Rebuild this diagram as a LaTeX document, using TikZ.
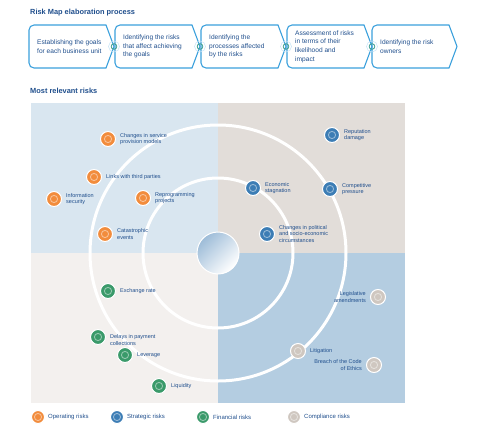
\documentclass[tikz,border=0pt]{standalone}
\usepackage{fontspec}
\setmainfont{Liberation Sans}
\usetikzlibrary{positioning,calc}

\definecolor{navy}{HTML}{1F4E8C}
\definecolor{chevblue}{HTML}{3BA0DC}
\definecolor{qtl}{HTML}{D9E6F0}
\definecolor{qtr}{HTML}{E2DDD9}
\definecolor{qbl}{HTML}{F3F0EE}
\definecolor{qbr}{HTML}{B4CDE1}
\definecolor{oprisk}{HTML}{F28C3C}
\definecolor{strisk}{HTML}{3C7DB5}
\definecolor{finrisk}{HTML}{3A9A6A}
\definecolor{comrisk}{HTML}{CFC7C0}
\definecolor{hubblue}{HTML}{9DBCD8}

\begin{document}
\begin{tikzpicture}[x=1pt,y=-1pt,
  heading/.style={anchor=west,inner sep=0pt,text=navy,font=\fontsize{7.4}{8}\selectfont\bfseries},
  steptext/.style={anchor=west,inner sep=0pt,align=left,text=navy,font=\fontsize{6.6}{8.6}\selectfont},
  riskdot/.style={circle,fill=#1,draw=white,line width=1pt,minimum size=15pt,inner sep=0pt,
    path picture={\draw[#1!55!white,line width=0.9pt] (path picture bounding box.center) circle (3.6pt);}},
  keydot/.style={riskdot=#1,minimum size=13pt},
  risklabel/.style={inner sep=0pt,align=left,text=navy,font=\fontsize{5.5}{6.3}\selectfont},
  keylabel/.style={risklabel,font=\fontsize{6}{6.8}\selectfont}]
  \useasboundingbox (0,0) rectangle (480,445);

  % elaboration process
  \node[heading] (proctitle) at (30,13) {Risk Map elaboration process};
  \foreach \x/\txt [count=\i] in {29/{Establishing the goals\\for each business unit},
      115/{Identifying the risks\\that affect achieving\\the goals},
      201/{Identifying the\\processes affected\\by the risks},
      287/{Assessment of risks\\in terms of their\\likelihood and\\impact},
      372/{Identifying the risk\\owners}}
  {
    \draw[chevblue,line width=1.1pt,rounded corners=5pt] (\x+40,25) -- (\x,25) -- (\x,68) -- (\x+40,68)
      [sharp corners] -- (\x+77,68) -- (\x+85,46.5) -- (\x+77,25) -- cycle;
    \node[steptext] (step\i) at (\x+8,46.5) {\txt};
  }
  \foreach \x in {114,200,286,372}{
    \draw[chevblue!30,line width=0.5pt] (\x,46.5) circle (5.5pt);
    \draw[finrisk!70!chevblue,line width=0.8pt] (\x,46.5) circle (2.8pt);
  }

  % risk map
  \node[heading] (maptitle) at (30,91) {Most relevant risks};
  \coordinate (hub) at (218,253);
  \fill[qtl] (31,103) rectangle (hub);
  \fill[qtr] (405,103) rectangle (hub);
  \fill[qbl] (31,403) rectangle (hub);
  \fill[qbr] (405,403) rectangle (hub);
  \draw[white,line width=3pt] (hub) circle (75pt) (hub) circle (128pt);
  \shade[top color=hubblue,bottom color=white,shading angle=45,draw=white,line width=1pt] (hub) circle (21pt);

  % operating
  \node[riskdot=oprisk] (service) at (108,139) {};
  \node[risklabel,right=4pt of service] (servicetxt) {Changes in service\\provision models};
  \node[riskdot=oprisk] (third) at (94,177) {};
  \node[risklabel,right=4pt of third] (thirdtxt) {Links with third parties};
  \node[riskdot=oprisk] (infosec) at (54,199) {};
  \node[risklabel,right=4pt of infosec] (infosectxt) {Information\\security};
  \node[riskdot=oprisk] (reprog) at (143,198) {};
  \node[risklabel,right=4pt of reprog] (reprogtxt) {Reprogramming\\projects};
  \node[riskdot=oprisk] (catas) at (105,234) {};
  \node[risklabel,right=4pt of catas] (catastxt) {Catastrophic\\events};

  % strategic
  \node[riskdot=strisk] (reput) at (332,135) {};
  \node[risklabel,right=4pt of reput] (reputtxt) {Reputation\\damage};
  \node[riskdot=strisk] (econ) at (253,188) {};
  \node[risklabel,right=4pt of econ] (econtxt) {Economic\\stagnation};
  \node[riskdot=strisk] (compet) at (330,189) {};
  \node[risklabel,right=4pt of compet] (compettxt) {Competitive\\pressure};
  \node[riskdot=strisk] (polit) at (267,234) {};
  \node[risklabel,right=4pt of polit] (polittxt) {Changes in political\\and socio-economic\\circumstances};

  % financial
  \node[riskdot=finrisk] (exch) at (108,291) {};
  \node[risklabel,right=4pt of exch] (exchtxt) {Exchange rate};
  \node[riskdot=finrisk] (delays) at (98,337) {};
  \node[risklabel,right=4pt of delays,yshift=-3pt] (delaystxt) {Delays in payment\\collections};
  \node[riskdot=finrisk] (lever) at (125,355) {};
  \node[risklabel,right=4pt of lever] (levertxt) {Leverage};
  \node[riskdot=finrisk] (liquid) at (159,386) {};
  \node[risklabel,right=4pt of liquid] (liquidtxt) {Liquidity};

  % compliance
  \node[riskdot=comrisk] (legis) at (378,297) {};
  \node[risklabel,align=right,left=4pt of legis] (legistxt) {Legislative\\amendments};
  \node[riskdot=comrisk] (litig) at (298,351) {};
  \node[risklabel,right=4pt of litig] (litigtxt) {Litigation};
  \node[riskdot=comrisk] (ethics) at (374,365) {};
  \node[risklabel,align=right,left=4pt of ethics] (ethicstxt) {Breach of the Code\\of Ethics};

  % key
  \node[keydot=oprisk] (keyop) at (38,417) {};
  \node[keylabel,right=3pt of keyop] (keyoptxt) {Operating risks};
  \node[keydot=strisk] (keyst) at (117,417) {};
  \node[keylabel,right=3pt of keyst] (keysttxt) {Strategic risks};
  \node[keydot=finrisk] (keyfin) at (203,417) {};
  \node[keylabel,right=3pt of keyfin] (keyfintxt) {Financial risks};
  \node[keydot=comrisk] (keycom) at (294,417) {};
  \node[keylabel,right=3pt of keycom] (keycomtxt) {Compliance risks};
\end{tikzpicture}
\end{document}
